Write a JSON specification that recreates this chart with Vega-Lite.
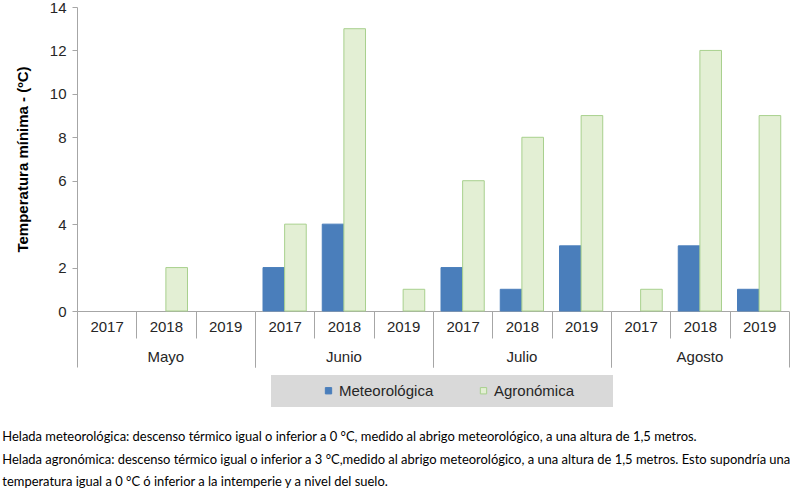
{
  "$schema": "https://vega.github.io/schema/vega-lite/v6.json",
  "background": "white",
  "padding": {"left": 2, "top": 0, "right": 5, "bottom": 4},
  "title": {
    "text": [
      "Helada meteorológica: descenso térmico igual o inferior a 0 °C, medido al abrigo meteorológico, a una altura de 1,5 metros.",
      "Helada agronómica: descenso térmico igual o inferior a 3 °C,medido al abrigo meteorológico, a una altura de 1,5 metros. Esto supondría una",
      "temperatura igual a 0 °C ó inferior a la intemperie y a nivel del suelo."
    ],
    "orient": "bottom",
    "anchor": "start",
    "frame": "bounds",
    "font": "Lato",
    "fontSize": 12.95,
    "fontWeight": "normal",
    "color": "#000000",
    "lineHeight": 22.5,
    "offset": 24,
    "dx": -13
  },
  "data": {
    "values": [
      {"mes": "Mayo", "anio": "2017", "tipo": "Meteorológica", "valor": 0},
      {"mes": "Mayo", "anio": "2017", "tipo": "Agronómica", "valor": 0},
      {"mes": "Mayo", "anio": "2018", "tipo": "Meteorológica", "valor": 0},
      {"mes": "Mayo", "anio": "2018", "tipo": "Agronómica", "valor": 2},
      {"mes": "Mayo", "anio": "2019", "tipo": "Meteorológica", "valor": 0},
      {"mes": "Mayo", "anio": "2019", "tipo": "Agronómica", "valor": 0},
      {"mes": "Junio", "anio": "2017", "tipo": "Meteorológica", "valor": 2},
      {"mes": "Junio", "anio": "2017", "tipo": "Agronómica", "valor": 4},
      {"mes": "Junio", "anio": "2018", "tipo": "Meteorológica", "valor": 4},
      {"mes": "Junio", "anio": "2018", "tipo": "Agronómica", "valor": 13},
      {"mes": "Junio", "anio": "2019", "tipo": "Meteorológica", "valor": 0},
      {"mes": "Junio", "anio": "2019", "tipo": "Agronómica", "valor": 1},
      {"mes": "Julio", "anio": "2017", "tipo": "Meteorológica", "valor": 2},
      {"mes": "Julio", "anio": "2017", "tipo": "Agronómica", "valor": 6},
      {"mes": "Julio", "anio": "2018", "tipo": "Meteorológica", "valor": 1},
      {"mes": "Julio", "anio": "2018", "tipo": "Agronómica", "valor": 8},
      {"mes": "Julio", "anio": "2019", "tipo": "Meteorológica", "valor": 3},
      {"mes": "Julio", "anio": "2019", "tipo": "Agronómica", "valor": 9},
      {"mes": "Agosto", "anio": "2017", "tipo": "Meteorológica", "valor": 0},
      {"mes": "Agosto", "anio": "2017", "tipo": "Agronómica", "valor": 1},
      {"mes": "Agosto", "anio": "2018", "tipo": "Meteorológica", "valor": 3},
      {"mes": "Agosto", "anio": "2018", "tipo": "Agronómica", "valor": 12},
      {"mes": "Agosto", "anio": "2019", "tipo": "Meteorológica", "valor": 1},
      {"mes": "Agosto", "anio": "2019", "tipo": "Agronómica", "valor": 9}
    ]
  },
  "transform": [{"filter": "datum.valor > 0"}],
  "facet": {
    "column": {
      "field": "mes",
      "type": "nominal",
      "sort": ["Mayo", "Junio", "Julio", "Agosto"],
      "header": {
        "title": null,
        "labelOrient": "bottom",
        "labelFont": "Liberation Sans",
        "labelFontSize": 15,
        "labelColor": "#262626",
        "labelPadding": -18
      }
    }
  },
  "spacing": 0,
  "bounds": "flush",
  "spec": {
    "width": 177.75,
    "height": 304,
    "mark": {"type": "bar", "strokeWidth": 1},
    "encoding": {
      "x": {
        "field": "anio",
        "type": "nominal",
        "scale": {"domain": ["2017", "2018", "2019"], "paddingInner": 0, "paddingOuter": 0},
        "axis": {
          "title": null,
          "labelAngle": 0,
          "tickBand": "extent",
          "tickSize": {"condition": {"test": "datum.extra || datum.value == '2019'", "value": 56}, "value": 27},
          "labelPadding": {"condition": {"test": "datum.value == '2019'", "value": -48}, "value": -19}
        }
      },
      "xOffset": {
        "field": "tipo",
        "type": "nominal",
        "sort": ["Meteorológica", "Agronómica"],
        "scale": {"domain": ["Meteorológica", "Agronómica"], "paddingInner": 0, "paddingOuter": 0.37}
      },
      "y": {
        "field": "valor",
        "type": "quantitative",
        "scale": {"domain": [0, 14], "nice": false},
        "axis": {
          "title": "Temperatura mínima  - (ºC)",
          "values": [0, 2, 4, 6, 8, 10, 12, 14],
          "grid": false,
          "tickSize": 5,
          "labelPadding": 6,
          "titlePadding": 19
        }
      },
      "color": {
        "field": "tipo",
        "type": "nominal",
        "sort": ["Meteorológica", "Agronómica"],
        "scale": {"domain": ["Meteorológica", "Agronómica"], "range": ["#4a7ebb", "#e3efd4"]},
        "legend": {"title": " "}
      },
      "stroke": {
        "field": "tipo",
        "type": "nominal",
        "sort": ["Meteorológica", "Agronómica"],
        "scale": {"domain": ["Meteorológica", "Agronómica"], "range": ["#4a7ebb", "#a8d08d"]},
        "legend": {"title": " "}
      }
    }
  },
  "config": {
    "view": {"stroke": null},
    "font": "Liberation Sans",
    "axis": {
      "domainColor": "#a6a6a6",
      "tickColor": "#a6a6a6",
      "labelFont": "Liberation Sans",
      "labelFontSize": 15,
      "labelColor": "#262626",
      "titleFont": "Liberation Sans",
      "titleFontSize": 15,
      "titleFontWeight": "bold",
      "titleColor": "#000000"
    },
    "legend": {
      "orient": "none",
      "legendX": 194,
      "legendY": 368,
      "direction": "horizontal",
      "fillColor": "#d9d9d9",
      "padding": 8,
      "symbolType": "square",
      "symbolSize": 40,
      "symbolStrokeWidth": 1,
      "symbolOffset": 42,
      "columnPadding": -1,
      "titleOrient": "right",
      "titlePadding": 31,
      "labelFont": "Liberation Sans",
      "labelFontSize": 15,
      "labelColor": "#262626",
      "labelOffset": 3
    }
  }
}
